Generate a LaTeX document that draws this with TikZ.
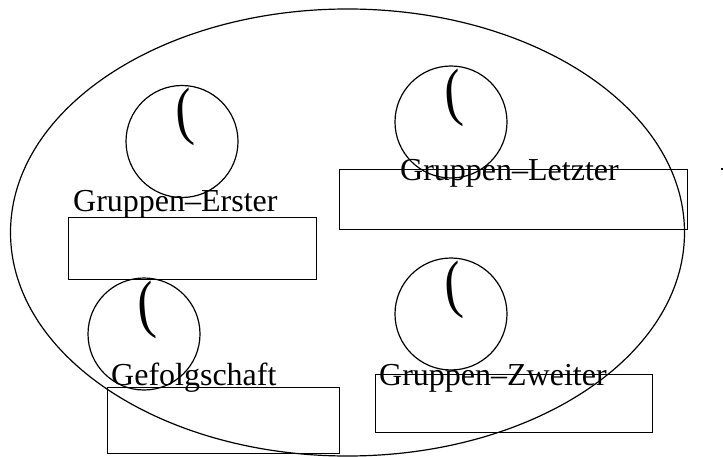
\documentclass[tikz,border=0pt]{standalone}
\usepackage{fontspec}
\setmainfont{Liberation Serif}
\usetikzlibrary{shapes.geometric}
\tikzset{
  outline/.style={draw, line width=1.2pt},
  ring/.style={outline, circle, minimum size=112pt, inner sep=0pt},
  slot/.style={outline, rectangle, anchor=north west, inner sep=0pt},
  lbl/.style={anchor=base west, inner sep=0pt, font=\fontsize{32}{36}\selectfont},
  hook/.style={inner sep=0pt, rotate=5, xscale=0.8, font=\fontsize{64}{70}\selectfont}
}
\begin{document}
\begin{tikzpicture}[x=1pt,y=-1pt]
\useasboundingbox (0,0) rectangle (723,457);
\node[outline, ellipse, minimum width=674pt, minimum height=447pt, inner sep=0pt] (outer) at (347.5,232.5) {};
% circles
\node[ring] (c1) at (182,141.5) {};
\node[ring] (c2) at (451,122) {};
\node[ring] (c3) at (144,334) {};
\node[ring] (c4) at (451,314) {};
% parentheses glyphs
\node[hook] (p1) at ([xshift=3pt,yshift=24pt]c1.center) {(};
\node[hook] (p2) at ([xshift=3pt,yshift=24pt]c2.center) {(};
\node[hook] (p3) at ([xshift=3pt,yshift=24pt]c3.center) {(};
\node[hook] (p4) at ([xshift=3pt,yshift=24pt]c4.center) {(};
% rectangles
\node[slot, minimum width=248pt, minimum height=62pt] (r1) at (68,217) {};
\node[slot, minimum width=348pt, minimum height=60pt] (r2) at (339,169) {};
\node[slot, minimum width=232pt, minimum height=66pt] (r3) at (107,387) {};
\node[slot, minimum width=277pt, minimum height=58pt] (r4) at (375,374) {};
% labels
\node[lbl] (l1) at (73,212) {Gruppen–Erster};
\node[lbl] (l2) at (400,181) {Gruppen–Letzter};
\node[lbl] (l3) at (111,385) {Gefolgschaft};
\node[lbl] (l4) at (379,385) {Gruppen–Zweiter};
% small mark at right edge
\fill (720.5,168) rectangle (722.5,170);
\end{tikzpicture}
\end{document}
